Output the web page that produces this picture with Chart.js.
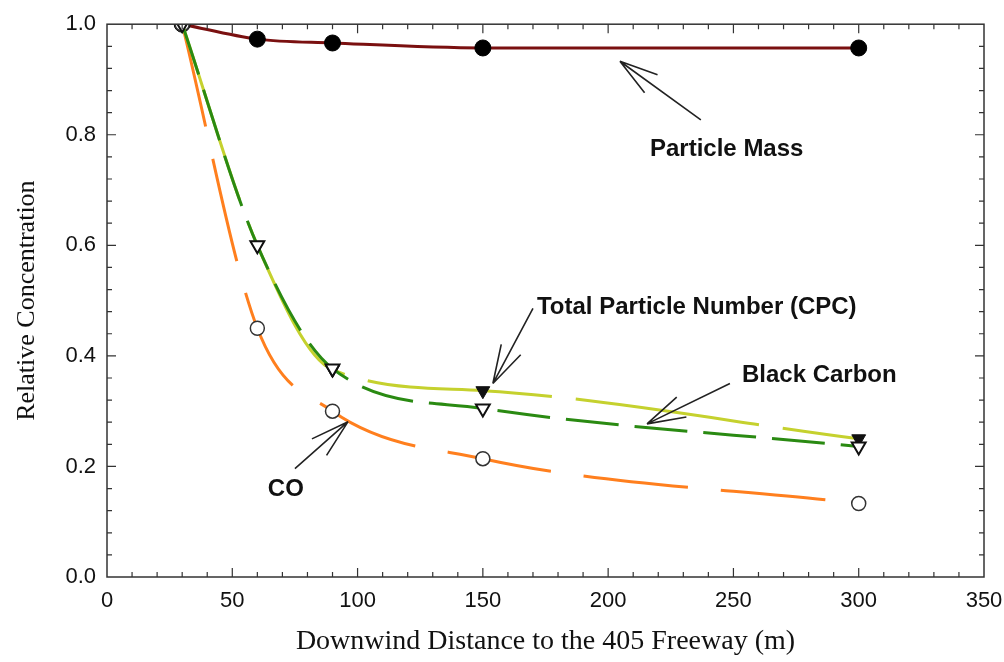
<!DOCTYPE html>
<html>
<head>
<meta charset="utf-8">
<script src="https://cdn.jsdelivr.net/npm/chart.js@4.4.1/dist/chart.umd.min.js"></script>
<style>
  html, body { margin: 0; padding: 0; background: #fff; }
  #wrap { width: 1004px; height: 662px; }
</style>
</head>
<body>
<div id="wrap"><canvas id="chart"></canvas></div>
<script>
// distances downwind (m)
const distances = [30, 60, 90, 150, 300];

// relative concentrations
const particleMass = [1.0, 0.973, 0.966, 0.957, 0.957];
const totalParticleNumber = [1.0, 0.60, 0.375, 0.337, 0.250];
const blackCarbon = [1.0, 0.60, 0.377, 0.305, 0.236];
const carbonMonoxide = [1.0, 0.45, 0.30, 0.214, 0.133];

const xTicks = [0, 50, 100, 150, 200, 250, 300, 350];
const yTicks = [0.0, 0.2, 0.4, 0.6, 0.8, 1.0];

// labels + arrows (data coords: tip, tail)
const notes = [
    { text: 'Particle Mass', x: 216.7, y: 0.773, tip: [204.7, 0.933], tail: [237.0, 0.827] },
    { text: 'Total Particle Number (CPC)', x: 171.6, y: 0.488, tip: [154.0, 0.350], tail: [170.0, 0.486] },
    { text: 'Black Carbon', x: 253.4, y: 0.364, tip: [215.5, 0.277], tail: [248.6, 0.350] },
    { text: 'CO', x: 64.2, y: 0.159, tip: [96.2, 0.281], tail: [75.0, 0.196] }
];

const pts = vals => distances.map((d, i) => ({ x: d, y: vals[i] }));

const ink = '#111';

// inward ticks on all 4 sides + frame
const frameTicks = {
    id: 'frameTicks',
    afterDraw(chart) {
        const { ctx, chartArea: a, scales } = chart;
        const xs = scales.x, ys = scales.y;
        ctx.save();
        ctx.strokeStyle = '#333';
        ctx.lineWidth = 1.5;
        ctx.strokeRect(a.left, a.top, a.right - a.left, a.bottom - a.top);
        ctx.lineWidth = 1.2;
        ctx.beginPath();
        for (let v = 10; v < 350; v += 10) {
            const len = v % 50 === 0 ? 9 : 5;
            const px = xs.getPixelForValue(v);
            ctx.moveTo(px, a.bottom); ctx.lineTo(px, a.bottom - len);
            ctx.moveTo(px, a.top); ctx.lineTo(px, a.top + len);
        }
        for (let k = 1; k < 25; k++) {
            const v = k * 0.04;
            const len = k % 5 === 0 ? 9 : 5;
            const py = ys.getPixelForValue(v);
            ctx.moveTo(a.left, py); ctx.lineTo(a.left + len, py);
            ctx.moveTo(a.right, py); ctx.lineTo(a.right - len, py);
        }
        ctx.stroke();
        ctx.restore();
    }
};

const annotations = {
    id: 'annotations',
    afterDraw(chart) {
        const { ctx, scales } = chart;
        const xs = scales.x, ys = scales.y;
        const P = p => [xs.getPixelForValue(p[0]), ys.getPixelForValue(p[1])];
        ctx.save();
        ctx.strokeStyle = '#222';
        ctx.lineWidth = 1.6;
        notes.forEach(n => {
            const [tx, ty] = P(n.tip);
            const [sx, sy] = P(n.tail);
            const ang = Math.atan2(sy - ty, sx - tx);
            const spread = 16 * Math.PI / 180;
            const len = 40;
            ctx.beginPath();
            ctx.moveTo(sx, sy); ctx.lineTo(tx, ty);
            ctx.moveTo(tx, ty); ctx.lineTo(tx + len * Math.cos(ang + spread), ty + len * Math.sin(ang + spread));
            ctx.moveTo(tx, ty); ctx.lineTo(tx + len * Math.cos(ang - spread), ty + len * Math.sin(ang - spread));
            ctx.stroke();
            ctx.fillStyle = ink;
            ctx.font = 'bold 24px "Liberation Sans", Arial, sans-serif';
            ctx.textAlign = 'left';
            ctx.textBaseline = 'middle';
            ctx.fillText(n.text, xs.getPixelForValue(n.x), ys.getPixelForValue(n.y));
        });
        ctx.restore();
    }
};

const ctx = document.getElementById('chart').getContext('2d');
new Chart(ctx, {
    type: 'line',
    data: {
        datasets: [
            {
                label: 'Black Carbon',
                data: pts(blackCarbon),
                borderColor: '#2a8a12', borderWidth: 3, borderDash: [53, 16],
                pointStyle: 'triangle', pointRotation: 180, pointRadius: 8,
                pointBackgroundColor: '#fff', pointBorderColor: '#111', pointBorderWidth: 2,
                cubicInterpolationMode: 'monotone'
            },
            {
                label: 'Total Particle Number (CPC)',
                data: pts(totalParticleNumber),
                borderColor: '#c5d12e', borderWidth: 3, borderDash: [185, 24],
                pointStyle: 'triangle', pointRotation: 180, pointRadius: 8,
                pointBackgroundColor: '#111', pointBorderColor: '#111', pointBorderWidth: 1,
                cubicInterpolationMode: 'monotone'
            },
            {
                label: 'CO',
                data: pts(carbonMonoxide),
                borderColor: '#ff7f1e', borderWidth: 3, borderDash: [105, 33],
                pointStyle: 'circle', pointRadius: 7,
                pointBackgroundColor: '#fff', pointBorderColor: '#333', pointBorderWidth: 1.5,
                cubicInterpolationMode: 'monotone'
            },
            {
                label: 'Particle Mass',
                data: pts(particleMass),
                borderColor: '#7a1010', borderWidth: 3,
                pointStyle: 'circle', pointRadius: 8,
                pointBackgroundColor: '#000', pointBorderColor: '#000', pointBorderWidth: 1,
                cubicInterpolationMode: 'monotone'
            }
        ]
    },
    options: {
        responsive: true,
        maintainAspectRatio: false,
        animation: false,
        layout: { padding: { top: 22, right: 20, left: 0, bottom: 0 } },
        plugins: { legend: { display: false }, tooltip: { enabled: false } },
        scales: {
            x: {
                type: 'linear', min: 0, max: 350,
                afterBuildTicks: s => { s.ticks = xTicks.map(v => ({ value: v })); },
                afterFit: s => { s.height = 85; s.paddingRight = 0; s.paddingLeft = 0; },
                grid: { display: false, drawTicks: false },
                border: { display: false },
                ticks: { color: ink, padding: 11, font: { family: '"Liberation Sans", Arial, sans-serif', size: 22 } },
                title: {
                    display: true, text: 'Downwind Distance to the 405 Freeway (m)', color: ink,
                    font: { family: '"Liberation Serif", "Times New Roman", serif', size: 28 },
                    padding: { top: 0, bottom: 4 }
                }
            },
            y: {
                type: 'linear', min: 0, max: 1.0,
                afterBuildTicks: s => { s.ticks = yTicks.map(v => ({ value: v })); },
                afterFit: s => { s.width = 107; },
                grid: { display: false, drawTicks: false },
                border: { display: false },
                ticks: { color: ink, padding: 11, callback: v => v.toFixed(1), font: { family: '"Liberation Sans", Arial, sans-serif', size: 22 } },
                title: {
                    display: true, text: 'Relative Concentration', color: ink,
                    font: { family: '"Liberation Serif", "Times New Roman", serif', size: 26 },
                    padding: { top: 12, bottom: 0 }
                }
            }
        }
    },
    plugins: [frameTicks, annotations]
});
</script>
</body>
</html>
